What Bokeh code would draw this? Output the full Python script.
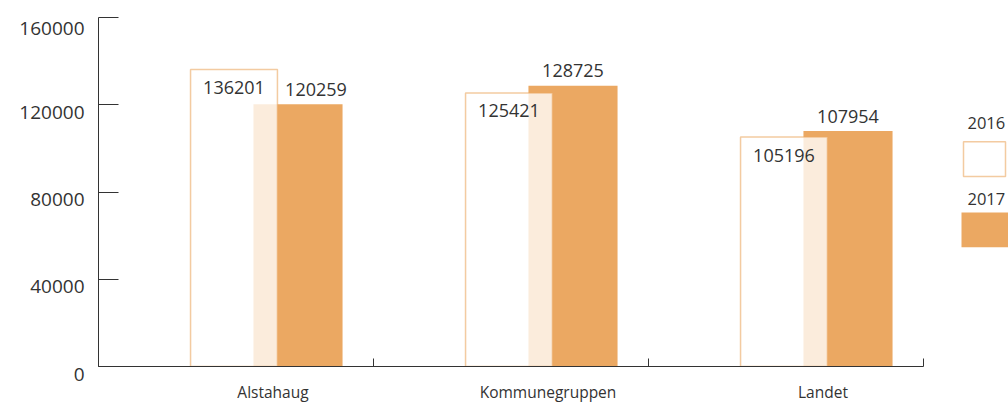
from bokeh.plotting import figure
from bokeh.models import (ColumnDataSource, Range1d, FixedTicker, CustomJSTickFormatter)
from bokeh.layouts import row
from bokeh.transform import dodge
from bokeh.core.properties import value
from bokeh.embed import file_html
from bokeh.resources import INLINE

# ---- data ----
categories = ["Alstahaug", "Kommunegruppen", "Landet"]
values_2016 = [136201, 125421, 105196]
values_2017 = [120259, 128725, 107954]
y_ticks = [0, 40000, 80000, 120000, 160000]
series_names = ["2016", "2017"]

ORANGE = "#EBA862"
TEXT = "#333333"
FONT = "Open Sans"

YMAX = 160000
FRAME_TOP = 17
FRAME_BOTTOM = 368

n = len(categories)
src = ColumnDataSource(dict(
    idx=[i + 0.5 for i in range(n)],
    v16=values_2016,
    v17=values_2017,
    l16=[str(v) for v in values_2016],
    l17=[str(v) for v in values_2017],
    # nudge the 2017 label right when it would collide with the 2016 label
    xo17=[18 if a > b else 0 for a, b in zip(values_2016, values_2017)],
))

p = figure(width=948, height=405, output_backend="svg", toolbar_location=None,
           x_range=Range1d(0, n), y_range=Range1d(0, YMAX),
           min_border_left=98, min_border_right=25, min_border_top=FRAME_TOP,
           min_border_bottom=405 - FRAME_BOTTOM)
p.outline_line_color = None
p.xgrid.grid_line_color = None
p.ygrid.grid_line_color = None
p.background_fill_color = "white"
p.border_fill_color = "white"

D16 = -2 / 275
D17 = 62 / 275

p.vbar(x=dodge("idx", D17), top="v17", bottom=0, width=0.324, source=src,
       fill_color=ORANGE, line_color=None)
p.vbar(x=dodge("idx", D16), top="v16", bottom=0, width=0.316, source=src,
       fill_color="white", fill_alpha=0.78, line_color=ORANGE, line_alpha=0.6,
       line_width=1.5)

p.text(x=dodge("idx", D16), y="v16", text="l16", source=src, y_offset=18,
       text_align="center", text_baseline="alphabetic",
       text_font=value(FONT), text_font_size="18px", text_color=TEXT)
p.text(x=dodge("idx", D17), y="v17", text="l17", source=src, y_offset=-15,
       x_offset="xo17",
       text_align="center", text_baseline="alphabetic",
       text_font=value(FONT), text_font_size="18px", text_color=TEXT)

# y axis: inward ticks; labels sit a little below their ticks (empty first line)
ya = p.yaxis[0]
ya.ticker = FixedTicker(ticks=y_ticks)
ya.formatter = CustomJSTickFormatter(code="return '\\n' + tick.toFixed(0)")
ya.major_tick_in = 20
ya.major_tick_out = 0
ya.minor_tick_line_color = None
ya.major_tick_line_color = TEXT
ya.axis_line_color = TEXT
ya.major_label_standoff = 14
ya.major_label_text_font = FONT
ya.major_label_text_font_size = "19px"
ya.major_label_text_color = TEXT
ya.major_label_text_line_height = 0.54

# x axis: labels at group positions, boundary ticks as minor ticks
xa = p.xaxis[0]
xa.ticker = FixedTicker(ticks=[i + 0.5 + 37 / 275 for i in range(n)],
                        minor_ticks=list(range(n + 1)))
xa.formatter = CustomJSTickFormatter(args=dict(names=categories),
                                     code="return names[Math.floor(tick)] || ''")
xa.major_tick_line_color = None
xa.major_tick_in = 0
xa.major_tick_out = 0
xa.minor_tick_in = 8
xa.minor_tick_out = 0
xa.minor_tick_line_color = TEXT
xa.axis_line_color = TEXT
xa.major_label_standoff = 14
xa.major_label_text_font = FONT
xa.major_label_text_font_size = "15.5px"
xa.major_label_text_color = TEXT

# ---- legend panel (its frame is aligned with the main frame; data = page px) ----
lg = figure(width=60, height=405, output_backend="svg", toolbar_location=None,
            x_range=Range1d(0, 60), y_range=Range1d(FRAME_BOTTOM, FRAME_TOP),
            min_border_left=0, min_border_right=0, min_border_top=FRAME_TOP,
            min_border_bottom=405 - FRAME_BOTTOM)
lg.axis.visible = False
lg.grid.grid_line_color = None
lg.outline_line_color = None
lg.background_fill_color = "white"
lg.border_fill_color = "white"
lg.text(x=[19, 19], y=[123, 199.7], text=series_names, text_align="left",
        text_baseline="alphabetic", text_font=value(FONT),
        text_font_size="16.5px", text_color=TEXT)
lg.quad(left=[15], right=[57], top=[142], bottom=[177], fill_color="white",
        line_color=ORANGE, line_alpha=0.6, line_width=1.5)
lg.quad(left=[13], right=[62], top=[213], bottom=[248], fill_color=ORANGE,
        line_color=None)

layout = row(p, lg)
open("out.html", "w").write(file_html(layout, INLINE))
